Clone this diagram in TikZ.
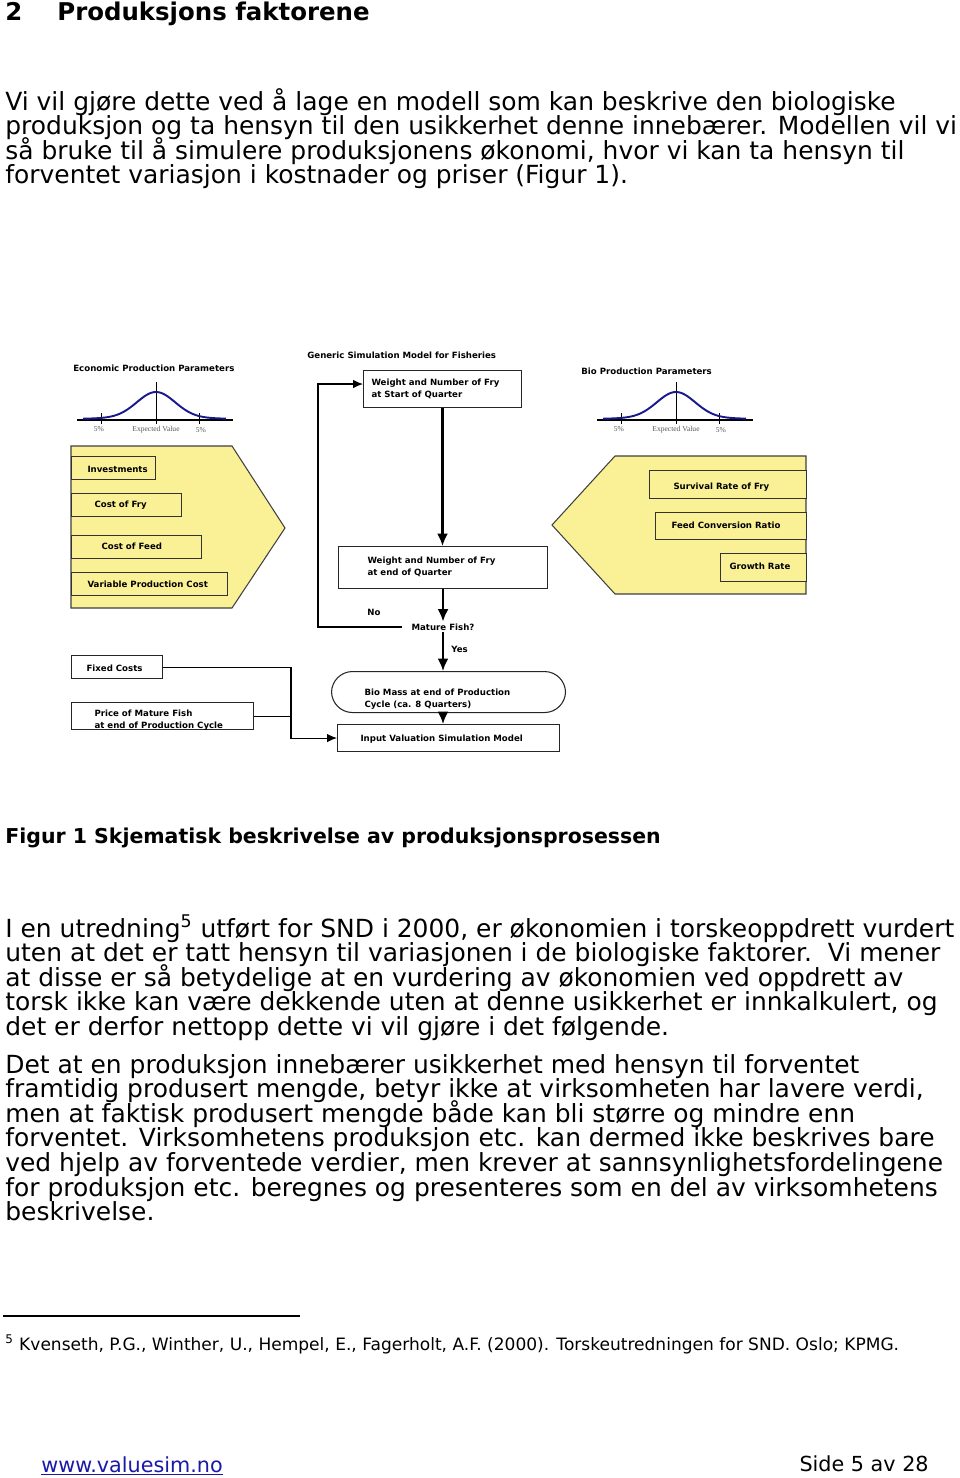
\documentclass[tikz,border=0pt]{standalone}
\usepackage{fontspec}
\setmainfont{DejaVu Sans}
\newfontfamily\tickfont{Liberation Serif}
\usepackage{xcolor}
\usetikzlibrary{arrows.meta,positioning}

\definecolor{paleyellow}{RGB}{250,241,150}
\definecolor{curveblue}{RGB}{25,25,140}
\definecolor{linkblue}{RGB}{25,25,170}

\newdimen\pxu \pxu=0.02cm
\newcommand{\bodyfont}{\fontsize{14.2}{14}\selectfont}
\newcommand{\diagfont}{\fontsize{4.9}{6.8}\selectfont\bfseries}
% box label: [drop] width, left gap, lines
\newcommand{\boxtext}[4][0]{\makebox[#2\pxu][l]{\hspace*{#3\pxu}\raisebox{-#1\pxu}[\height][\depth]{\begin{tabular}{@{}l@{}}#4\end{tabular}}}}

\begin{document}
\begin{tikzpicture}[x=0.02cm, y=-0.02cm,
    bodyline/.style={anchor=base west, inner sep=0, font=\bodyfont},
    headline/.style={anchor=base west, inner sep=0, font=\fontsize{13.9}{14}\selectfont\bfseries},
    diaglabel/.style={anchor=west, inner sep=0, font=\diagfont},
    ticklabel/.style={anchor=base, inner sep=0, text=black!65, font=\tickfont\fontsize{4.3}{5}\selectfont},
    ybox/.style={draw=black!80, line width=0.6pt, fill=paleyellow, anchor=north west, inner sep=0, font=\diagfont},
    wbox/.style={draw=black!85, line width=0.6pt, fill=white, anchor=north west, inner sep=0, font=\diagfont},
    flowarrow/.style={line width=1.2pt, -{Latex[length=2.5mm,width=2.2mm]}},
    thinarrow/.style={line width=0.6pt, -{Latex[length=2mm,width=1.7mm]}},
    thinline/.style={line width=0.6pt},
]
\fill[white] (0,0) rectangle (960,1478);
\useasboundingbox (0,0) rectangle (960,1478);

% Heading and text
\node[headline] (secnum) at (5,20) {2};
\node[headline] (sectitle) at (57,20) {Produksjons faktorene};

\foreach \txt [count=\i] in {
    {Vi vil gjøre dette ved å lage en modell som kan beskrive den biologiske},
    {produksjon og ta hensyn til den usikkerhet denne innebærer. Modellen vil vi},
    {så bruke til å simulere produksjonens økonomi, hvor vi kan ta hensyn til},
    {forventet variasjon i kostnader og priser (Figur 1).}}
  \node[bodyline] (pa\i) at (5,{110+24.6*(\i-1)}) {\txt};

\node[headline, font=\fontsize{11.65}{12}\selectfont\bfseries] (caption) at (5,843)
  {Figur 1 Skjematisk beskrivelse av produksjonsprosessen};

\foreach \txt [count=\i] in {
    {I en utredning\textsuperscript{5} utført for SND i 2000, er økonomien i torskeoppdrett vurdert},
    {uten at det er tatt hensyn til variasjonen i de biologiske faktorer.\ \ Vi mener},
    {at disse er så betydelige at en vurdering av økonomien ved oppdrett av},
    {torsk ikke kan være dekkende uten at denne usikkerhet er innkalkulert, og},
    {det er derfor nettopp dette vi vil gjøre i det følgende.}}
  \node[bodyline] (pb\i) at (5,{937+24.6*(\i-1)}) {\txt};

\foreach \txt [count=\i] in {
    {Det at en produksjon innebærer usikkerhet med hensyn til forventet},
    {framtidig produsert mengde, betyr ikke at virksomheten har lavere verdi,},
    {men at faktisk produsert mengde både kan bli større og mindre enn},
    {forventet. Virksomhetens produksjon etc. kan dermed ikke beskrives bare},
    {ved hjelp av forventede verdier, men krever at sannsynlighetsfordelingene},
    {for produksjon etc. beregnes og presenteres som en del av virksomhetens},
    {beskrivelse.}}
  \node[bodyline] (pc\i) at (5,{1073+24.6*(\i-1)}) {\txt};

% Footnote and footer
\draw[thinline] (3,1316) -- (300,1316);
\node[bodyline, font=\fontsize{9.7}{10}\selectfont] (fnote) at (5,1350)
  {\textsuperscript{5} Kvenseth, P.G., Winther, U., Hempel, E., Fagerholt, A.F. (2000). Torskeutredningen for SND. Oslo; KPMG.};
\node[bodyline, font=\fontsize{11.8}{12}\selectfont, text=linkblue] (website) at (41,1472) {\underline{www.valuesim.no}};
\node[bodyline, anchor=base east, font=\fontsize{11.8}{12}\selectfont] (pagenum) at (929,1471) {Side 5 av 28};

% Diagram titles
\node[diaglabel] (econ) at (73,368) {Economic Production Parameters};
\node[diaglabel] (generic) at (307,355) {Generic Simulation Model for Fisheries};
\node[diaglabel] (biopar) at (581,371) {Bio Production Parameters};

% Distribution curves
\foreach \ox in {0,520} {
  \draw[line width=1pt] (77+\ox,420) -- (233+\ox,420);
  \draw[line width=0.5pt] (156+\ox,382) -- (156+\ox,424);
  \draw[line width=0.5pt] (101+\ox,413) -- (101+\ox,424);
  \draw[line width=0.5pt] (199+\ox,413) -- (199+\ox,424);
  \draw[curveblue, line width=1.1pt, domain=83:226, samples=90, smooth]
    plot ({\x+\ox},{419.5-27.5*(0.92*exp(-((\x-156)/19)^2/2)+0.08*exp(-((\x-156)/50)^2/2))});
  \node[ticklabel] (lo\ox) at (99+\ox,431) {5\%};
  \node[ticklabel] (ev\ox) at (156+\ox,431) {Expected Value};
  \node[ticklabel] (hi\ox) at (201+\ox,432) {5\%};
}

% Parameter blocks
\draw[draw=black!75, line width=0.6pt, fill=paleyellow]
  (71,446) -- (232,446) -- (285,528) -- (232,608) -- (71,608) -- cycle;
\draw[draw=black!75, line width=0.6pt, fill=paleyellow]
  (552,525) -- (615,456) -- (806,456) -- (806,594) -- (615,594) -- cycle;

\node[ybox, minimum height=23\pxu] (invest) at (71,456) {\boxtext[2]{84}{16}{Investments}};
\node[ybox, minimum height=23\pxu] (fry) at (71,493) {\boxtext{110}{23}{Cost of Fry}};
\node[ybox, minimum height=23\pxu] (feed) at (71,535) {\boxtext{130}{30}{Cost of Feed}};
\node[ybox, minimum height=23\pxu] (varcost) at (71,572) {\boxtext[1]{156}{16}{Variable Production Cost}};

\node[ybox, minimum height=28\pxu] (survival) at (649,470) {\boxtext[3]{157}{24}{Survival Rate of Fry}};
\node[ybox, minimum height=27\pxu] (fcr) at (655,512) {\boxtext{151}{16}{Feed Conversion Ratio}};
\node[ybox, minimum height=28\pxu] (growth) at (720,553) {\boxtext{86}{9}{Growth Rate}};

% Simulation flow
\node[wbox, minimum height=37\pxu] (startq) at (363,370) {\boxtext{158}{8}{Weight and Number of Fry\\at Start of Quarter}};
\node[wbox, minimum height=42\pxu] (endq) at (338,546) {\boxtext{209}{29}{Weight and Number of Fry\\at end of Quarter}};
\node[diaglabel] (nolabel) at (367,612) {No};
\node[inner xsep=5pt, inner ysep=1pt, font=\diagfont] (mature) at (443,627) {Mature Fish?};
\node[diaglabel] (yeslabel) at (451,649) {Yes};
\node[wbox, rounded corners=0.42cm, minimum height=41\pxu] (biomass) at (331,671) {\boxtext[7]{234}{33}{Bio Mass at end of Production\\Cycle (ca. 8 Quarters)}};
\node[wbox, minimum height=27\pxu] (inputval) at (337,724) {\boxtext[1]{222}{23}{Input Valuation Simulation Model}};
\node[wbox, minimum height=23\pxu] (fixed) at (71,655) {\boxtext[2]{91}{15}{Fixed Costs}};
\node[wbox, minimum height=27\pxu] (price) at (71,702) {\boxtext[4]{182}{23}{Price of Mature Fish\\at end of Production Cycle}};

\coordinate (loopc) at (318,384);
\coordinate (joinc) at ([xshift=-0.92cm]inputval.west);

% Arrows
\draw[flowarrow] (startq.south) -- (startq.south |- endq.north);
\draw[flowarrow] (endq.south) -- (endq.south |- mature.north);
\draw[flowarrow] (mature.south) -- (mature.south |- biomass.north);
\draw[flowarrow] (mature.south |- biomass.south) -- (mature.south |- inputval.north);
\draw[thinarrow] (mature.west) -| (loopc) -- (startq.west |- loopc);
\draw[thinarrow] (fixed.east) -| (joinc) -- (inputval.west);
\draw[thinline] (price.east) -- (price.east -| joinc);
\end{tikzpicture}
\end{document}
